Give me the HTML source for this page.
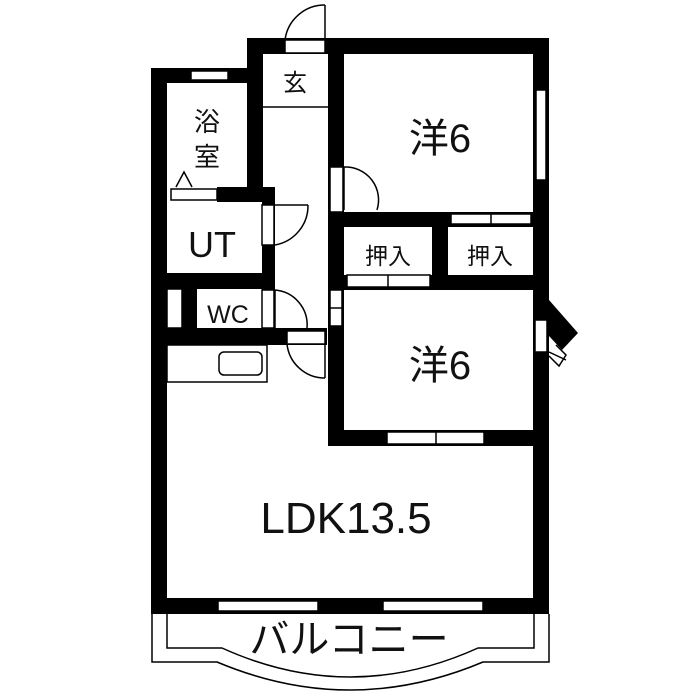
<!DOCTYPE html>
<html><head><meta charset="utf-8"><style>
html,body{margin:0;padding:0;background:#fff;}
svg{display:block;}
text{font-family:"Liberation Sans","Noto Sans CJK JP",sans-serif;fill:#111;}
</style></head><body>
<svg width="700" height="700" viewBox="0 0 700 700" xmlns="http://www.w3.org/2000/svg">
<g fill="#000">
<rect x="151" y="68" width="16" height="546"/>
<rect x="151" y="68" width="112" height="15"/>
<rect x="247" y="38" width="16" height="157"/>
<rect x="247" y="38" width="302" height="16"/>
<rect x="533" y="38" width="16" height="576"/>
<rect x="151" y="598" width="398" height="16"/>
<rect x="328" y="38" width="16" height="408"/>
<rect x="328" y="212" width="221" height="15"/>
<rect x="432" y="212" width="16" height="78"/>
<rect x="328" y="275" width="221" height="15"/>
<rect x="328" y="430" width="221" height="16"/>
<rect x="217" y="187" width="58" height="15"/>
<rect x="262" y="187" width="13" height="158"/>
<rect x="151" y="273" width="124" height="16"/>
<rect x="151" y="328" width="176" height="17"/>
<rect x="182" y="289" width="15" height="39"/>
<polygon points="549,300 578,333 562,350 549,336"/>
</g>
<g fill="#fff" stroke="#000" stroke-width="1.5">
<rect x="191" y="71" width="37" height="9"/>
<rect x="285" y="40" width="40" height="13"/>
<rect x="536" y="90" width="10" height="90"/>
<rect x="171" y="189" width="46" height="11"/>
<rect x="262" y="205" width="12" height="40"/>
<rect x="262" y="290" width="12" height="38"/>
<rect x="167" y="289" width="15" height="39"/>
<rect x="287" y="331" width="38" height="13"/>
<rect x="330" y="167" width="13" height="45"/>
<rect x="330" y="290" width="12" height="36"/>
<rect x="451" y="214" width="80" height="10"/>
<rect x="347" y="275" width="83" height="12"/>
<rect x="387" y="432" width="97" height="12"/>
<rect x="218" y="601" width="100" height="10"/>
<rect x="383" y="601" width="100" height="10"/>
<rect x="535" y="320" width="12" height="32"/>
</g>
<g fill="none" stroke="#000" stroke-width="1.5">
<line x1="325" y1="40" x2="325" y2="5"/><path d="M285 40 A40 40 0 0 1 325 5"/>
<line x1="263" y1="107" x2="328" y2="107"/>
<line x1="275" y1="205" x2="308" y2="205"/><path d="M275 245 A40 40 0 0 0 308 205"/>
<line x1="275" y1="290" x2="275" y2="328"/><path d="M275 290 A35 35 0 0 1 307 328"/>
<line x1="325" y1="344" x2="325" y2="378"/><path d="M287 344 A38 38 0 0 0 325 378"/>
<line x1="344" y1="167" x2="344" y2="210"/><path d="M344 167 A33 33 0 0 1 377 210"/>
<line x1="411" y1="214" x2="411" y2="224" /><line x1="491" y1="214" x2="491" y2="224"/>
<line x1="388" y1="275" x2="388" y2="287"/><line x1="436" y1="432" x2="436" y2="444"/>
<line x1="330" y1="308" x2="342" y2="308"/>
<path d="M176 187 L184 172 L192 187"/>
<rect x="167" y="345" width="100" height="37"/>
<rect x="219" y="352" width="43" height="23" rx="5"/>
<line x1="549" y1="352" x2="566" y2="360"/>
<path d="M556 345 L566 355 L559 366 L549 356"/>
<path d="M152 614 V662 H217 Q350 718 483 662 H549 V614"/>
<path d="M167 614 V648 H222 Q350 706 478 648 H534 V614"/>
</g>
<text x="207" y="131" font-size="26" text-anchor="middle">浴</text>
<text x="207" y="166" font-size="26" text-anchor="middle">室</text>
<text x="295" y="91" font-size="24" text-anchor="middle">玄</text>
<text x="212" y="257" font-size="36" text-anchor="middle">UT</text>
<text x="228" y="323" font-size="25" text-anchor="middle">WC</text>
<text x="440" y="152" font-size="40" text-anchor="middle">洋6</text>
<text x="440" y="379" font-size="40" text-anchor="middle">洋6</text>
<text x="388" y="264" font-size="23" text-anchor="middle">押入</text>
<text x="490" y="264" font-size="23" text-anchor="middle">押入</text>
<text x="346" y="533" font-size="44" text-anchor="middle">LDK13.5</text>
<text x="349" y="653" font-size="40" text-anchor="middle">バルコニー</text>
</svg>
</body></html>
